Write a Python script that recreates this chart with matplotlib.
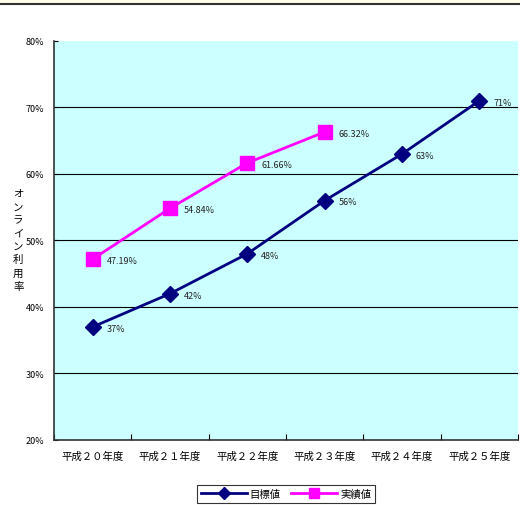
import matplotlib.pyplot as plt
from matplotlib.ticker import FixedLocator, FuncFormatter

plt.rcParams["font.family"] = ["Noto Sans CJK JP", "DejaVu Sans"]

years = ["平成２０年度", "平成２１年度", "平成２２年度", "平成２３年度", "平成２４年度", "平成２５年度"]
target = [37, 42, 48, 56, 63, 71]
actual = [47.19, 54.84, 61.66, 66.32]
target_labels = ["37%", "42%", "48%", "56%", "63%", "71%"]
actual_labels = ["47.19%", "54.84%", "61.66%", "66.32%"]

fig = plt.figure(figsize=(5.2, 5.06), dpi=100)

# header strip
fig.patches.append(plt.Rectangle((0, 0.991), 1, 0.009, transform=fig.transFigure,
                                 facecolor="#fffbe8", edgecolor="none"))
fig.add_artist(plt.Line2D([0, 1], [0.991, 0.991], transform=fig.transFigure,
                          color="#333333", lw=1.5))

ax = fig.add_axes([0.1038, 0.1285, 0.8922, 0.7885])
ax.set_facecolor("#ccffff")

x_t = list(range(len(target)))
x_a = list(range(len(actual)))
ax.plot(x_t, target, color="#000080", lw=2, marker="D", markersize=8, zorder=3, label="目標値")
ax.plot(x_a, actual, color="#ff00ff", lw=2, marker="s", markersize=10, zorder=3, label="実績値")

for xi, yi, s in zip(x_t, target, target_labels):
    ax.annotate(s, (xi, yi), xytext=(10, -1), textcoords="offset points",
                ha="left", va="center", fontsize=6.5, color="#222222")
for xi, yi, s in zip(x_a, actual, actual_labels):
    ax.annotate(s, (xi, yi), xytext=(10, -1), textcoords="offset points",
                ha="left", va="center", fontsize=6.5, color="#222222")

ax.set_xlim(-0.5, len(years) - 0.5)
ax.set_ylim(20, 80)
ax.yaxis.set_major_locator(FixedLocator([20, 30, 40, 50, 60, 70, 80]))
ax.yaxis.set_major_formatter(FuncFormatter(lambda v, p: f"{v:.0f}%"))
ax.set_xticks([i + 0.5 for i in range(-1, len(years))])
ax.set_xticklabels([])
ax.set_xticks(x_t, minor=True)
ax.set_xticklabels(years, minor=True, fontsize=7.5)
ax.tick_params(axis="x", which="minor", length=0, pad=8)
ax.tick_params(axis="x", which="major", direction="in", length=4)
ax.tick_params(axis="y", direction="in", length=3, labelsize=6.5, pad=7)

for v in [30, 40, 50, 60, 70]:
    ax.axhline(v, color="black", lw=0.8, zorder=1)

for side in ["top", "right"]:
    ax.spines[side].set_visible(False)
ax.spines["left"].set_color("#333333")
ax.spines["bottom"].set_color("#333333")
ax.spines["left"].set_linewidth(1.2)
ax.spines["bottom"].set_linewidth(1.2)

fig.text(0.035, 0.525, "\n".join("オンライン利用率"), ha="center", va="center",
         fontsize=7.5, linespacing=1.4)

leg = fig.legend(loc="center", bbox_to_anchor=(0.55, 0.022), ncol=2, fontsize=7.5,
                 frameon=True, fancybox=False, edgecolor="black", handlelength=4.4,
                 markerscale=0.75, columnspacing=1.0, handletextpad=0.3, borderpad=0.35)
leg.get_frame().set_linewidth(0.8)

fig.savefig("out.png", dpi=100)
